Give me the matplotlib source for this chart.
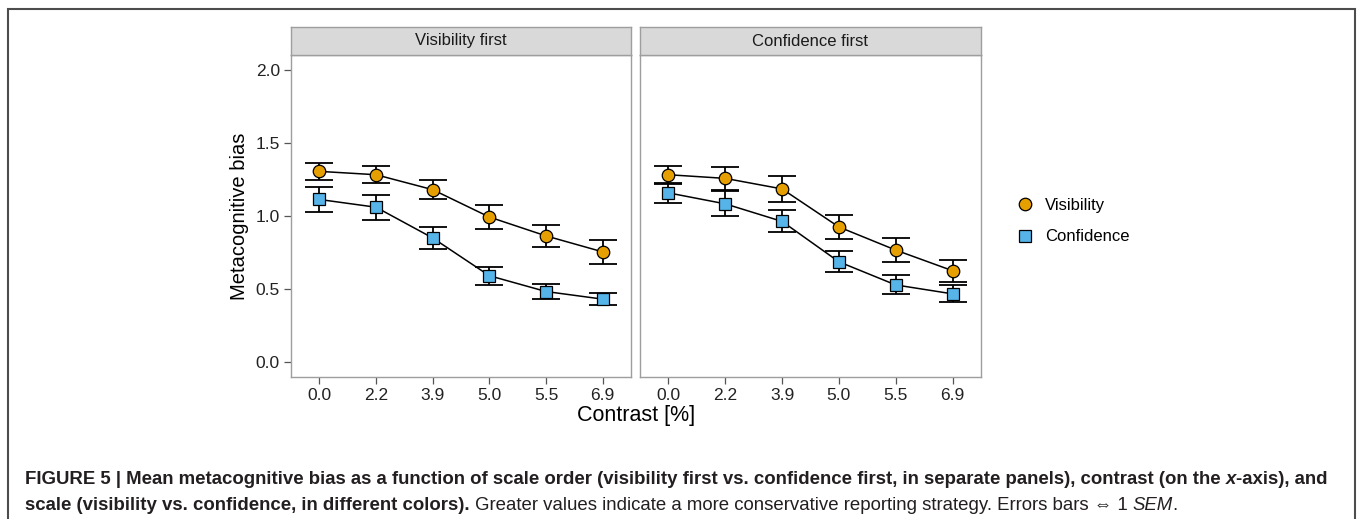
import matplotlib

matplotlib.use("Agg")
import matplotlib.pyplot as plt
from matplotlib import font_manager
from matplotlib.patches import Rectangle
from matplotlib.lines import Line2D
import numpy as np

plt.rcParams["font.family"] = ["Liberation Sans", "DejaVu Sans"]

CONTRAST = ["0.0", "2.2", "3.9", "5.0", "5.5", "6.9"]
PANELS = ["Visibility first", "Confidence first"]

# visibility first panel
VF_VIS = [1.305, 1.282, 1.18, 0.993, 0.864, 0.755]
VF_VIS_SEM = [0.06, 0.058, 0.066, 0.08, 0.077, 0.083]
VF_CONF = [1.113, 1.06, 0.85, 0.592, 0.484, 0.432]
VF_CONF_SEM = [0.085, 0.086, 0.075, 0.061, 0.05, 0.041]

# confidence first panel
CF_VIS = [1.282, 1.257, 1.185, 0.925, 0.767, 0.626]
CF_VIS_SEM = [0.06, 0.08, 0.086, 0.084, 0.083, 0.074]
CF_CONF = [1.158, 1.083, 0.963, 0.687, 0.529, 0.468]
CF_CONF_SEM = [0.068, 0.085, 0.075, 0.072, 0.065, 0.058]

ORANGE = "#E69F00"
BLUE = "#56B4E9"
FRAME = "#9E9E9E"

W, H = 1357, 519
fig = plt.figure(figsize=(W / 100, H / 100), dpi=100)

installed = {f.name for f in font_manager.fontManager.ttflist}
CAP_FONT = "Liberation Sans Narrow" if "Liberation Sans Narrow" in installed else "Liberation Sans"


def px_axes(x0, y0, x1, y1):
    return fig.add_axes([x0 / W, 1 - y1 / H, (x1 - x0) / W, (y1 - y0) / H])


def draw_series(ax, xs, ys, errs, marker, color):
    ax.errorbar(xs, ys, yerr=errs, fmt="none", ecolor="black", elinewidth=1.3,
                capsize=10, capthick=1.3, zorder=2)
    ax.plot(xs, ys, color="black", lw=1.1, zorder=3)
    ax.plot(xs, ys, linestyle="none", marker=marker, ms=9 if marker == "o" else 8,
            mfc=color, mec="black", mew=0.9, zorder=4)


xs = np.arange(1, len(CONTRAST) + 1)
data = [
    (VF_VIS, VF_VIS_SEM, VF_CONF, VF_CONF_SEM),
    (CF_VIS, CF_VIS_SEM, CF_CONF, CF_CONF_SEM),
]
bounds = [(291, 631), (640, 981)]
top, strip_bot, bot = 27, 55, 377

for i, ((x0, x1), title, (vis, vis_e, conf, conf_e)) in enumerate(zip(bounds, PANELS, data)):
    ax = px_axes(x0, strip_bot, x1, bot)
    draw_series(ax, xs, vis, vis_e, "o", ORANGE)
    draw_series(ax, xs, conf, conf_e, "s", BLUE)
    ax.set_xlim(0.5, 6.5)
    ax.set_ylim(-0.1, 2.1)
    ax.set_xticks(xs)
    ax.set_xticklabels(CONTRAST)
    ax.set_yticks([0.0, 0.5, 1.0, 1.5, 2.0])
    ax.set_yticklabels(["0.0", "0.5", "1.0", "1.5", "2.0"])
    for s in ax.spines.values():
        s.set_color(FRAME)
        s.set_linewidth(1.0)
    ax.tick_params(length=5, width=0.9, color="#555555", labelsize=12.5,
                   labelcolor="#222222", pad=3)
    if i > 0:
        ax.tick_params(axis="y", left=False, labelleft=False)
    else:
        ax.set_ylabel("Metacognitive bias", fontsize=14.5, labelpad=5)

    sax = px_axes(x0, top, x1, strip_bot)
    sax.set_xticks([])
    sax.set_yticks([])
    sax.set_facecolor("#D9D9D9")
    for s in sax.spines.values():
        s.set_color(FRAME)
        s.set_linewidth(1.0)
    sax.text(0.5, 0.5, title, ha="center", va="center", fontsize=12,
             color="#1A1A1A", transform=sax.transAxes)

fig.text(636 / W, 1 - 415 / H, "Contrast [%]", ha="center", va="center", fontsize=15.5)

handles = [
    Line2D([], [], linestyle="none", marker="o", ms=9, mfc=ORANGE, mec="black", mew=0.9),
    Line2D([], [], linestyle="none", marker="s", ms=8, mfc=BLUE, mec="black", mew=0.9),
]
fig.legend(handles, ["Visibility", "Confidence"], loc="center left",
           bbox_to_anchor=(1000 / W, 1 - 221 / H), frameon=False, fontsize=12,
           handletextpad=0.6, labelspacing=1.0, handlelength=1.2)

# outer frame of the figure box
fig.patches.append(Rectangle((8 / W, -0.05), (1355 - 8) / W, 1.05 - 9 / H,
                             transform=fig.transFigure, fill=False,
                             edgecolor="#4D4D4D", linewidth=1.5))

# caption, drawn run by run so bold / regular / italic can mix on one line
CAPTION = [
    [("FIGURE 5 | Mean metacognitive bias as a function of scale order (visibility first vs. "
      "confidence first, in separate panels), contrast (on the ", "bold", "normal"),
     ("x", "bold", "italic"), ("-axis), and", "bold", "normal")],
    [("scale (visibility vs. confidence, in different colors).", "bold", "normal"),
     (" Greater values indicate a more conservative reporting strategy. Errors bars \u21d4 1 ",
      "normal", "normal"),
     ("SEM", "normal", "italic"), (".", "normal", "normal")],
]
CAP_Y = [479, 506]
CAP_X0, CAP_X1 = 25, 1340

renderer = fig.canvas.get_renderer()


def draw_runs(runs, y, size):
    x = CAP_X0
    objs = []
    for txt, weight, style in runs:
        t = fig.text(x / W, 1 - y / H, txt, fontsize=size, fontweight=weight,
                     fontstyle=style, va="center", ha="left", color="#231F20",
                     family=[CAP_FONT, "DejaVu Sans"])
        bb = t.get_window_extent(renderer)
        x += bb.width
        objs.append(t)
    return x - CAP_X0, objs


width, objs = draw_runs(CAPTION[0], CAP_Y[0], 11)
for o in objs:
    o.remove()
size = 11 * (CAP_X1 - CAP_X0) / width
for runs, y in zip(CAPTION, CAP_Y):
    draw_runs(runs, y, size)

fig.savefig("out.png", dpi=100)
